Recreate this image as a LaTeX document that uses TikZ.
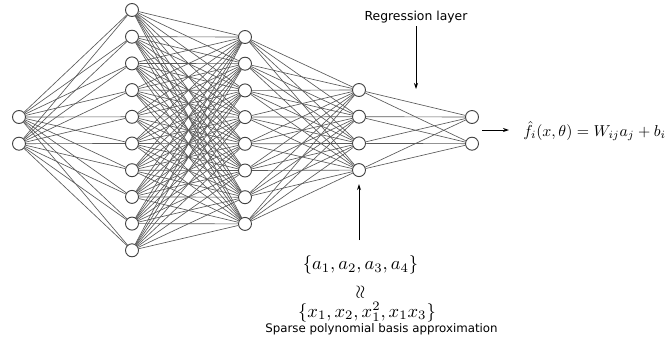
\documentclass[tikz,border=0pt]{standalone}
\usepackage{amsmath}
\usepackage{fontspec}
\newfontfamily\labelfont{DejaVu Sans}
\usetikzlibrary{arrows.meta, positioning}

\begin{document}
\begin{tikzpicture}[x=1pt, y=-1pt,
            neuron/.style={circle, draw=black!75, fill=white, line width=0.9pt,
                           inner sep=0pt, minimum size=13pt},
            synapse/.style={draw=black!65, line width=0.65pt},
            pointer/.style={-{Stealth[length=6pt, width=4pt]}, line width=0.8pt},
            caption/.style={font={\labelfont\fontsize{12.4}{15}\selectfont}, inner sep=3pt},
            formula/.style={scale=1.58, inner sep=0pt},
            setformula/.style={scale=1.85, inner sep=0pt}]
        \useasboundingbox (0,0) rectangle (665,341);
        % layers
        \foreach \i in {1,...,2}  \node[neuron] (in\i)  at ({19},  {117+(\i-1)*26.7}) {};
        \foreach \i in {1,...,10} \node[neuron] (hA\i)  at ({132}, {10+(\i-1)*26.7})  {};
        \foreach \i in {1,...,8}  \node[neuron] (hB\i)  at ({245}, {37+(\i-1)*26.7})  {};
        \foreach \i in {1,...,4}  \node[neuron] (hC\i)  at ({359}, {90+(\i-1)*26.7})  {};
        \foreach \i in {1,...,2}  \node[neuron] (out\i) at ({472}, {117+(\i-1)*26.7}) {};
        % connections
        \foreach \i in {1,...,2}  \foreach \j in {1,...,10} \draw[synapse] (in\i) -- (hA\j);
        \foreach \i in {1,...,10} \foreach \j in {1,...,8}  \draw[synapse] (hA\i) -- (hB\j);
        \foreach \i in {1,...,8}  \foreach \j in {1,...,4}  \draw[synapse] (hB\i) -- (hC\j);
        \foreach \i in {1,...,4}  \foreach \j in {1,...,2}  \draw[synapse] (hC\i) -- (out\j);
        % output
        \coordinate (outstart) at (482, 130);
        \coordinate (outend) at (509, 130);
        \draw[pointer] (outstart) -- (outend);
        \node[formula, anchor=west] (fout) at (523, 131) {$\hat{f}_i(x,\theta) = W_{ij}a_j + b_i$};
        % regression layer
        \node[caption, anchor=base] (reg) at (416, 20.3) {Regression layer};
        \coordinate (regtip) at (416, 89);
        \draw[pointer] (reg.south) -- (regtip);
        % basis
        \coordinate (basisin) at (359, 240);
        \draw[pointer, shorten >=7pt] (basisin) -- (hC4);
        \node[setformula] (aset) at (360.5, 265) {$\{a_1, a_2, a_3, a_4\}$};
        \node[setformula, rotate=90] (approx) at (361, 292) {$\approx$};
        \node[setformula] (xset) at (367, 312) {$\{x_1, x_2, x_1^2, x_1x_3\}$};
        \node[caption, anchor=base, font={\labelfont\fontsize{11.8}{14}\selectfont}] (basis) at (381.5, 332) {Sparse polynomial basis approximation};
\end{tikzpicture}
\end{document}
